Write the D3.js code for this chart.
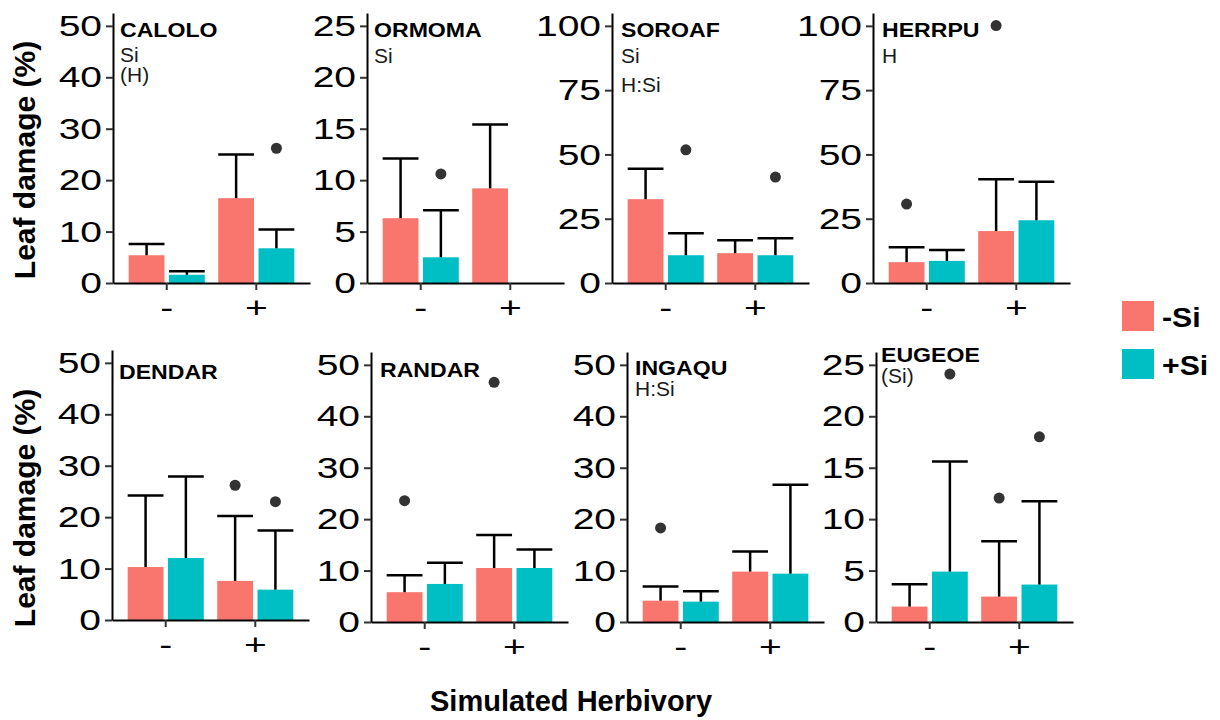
<!DOCTYPE html>
<html>
<head>
<meta charset="utf-8">
<script src="https://cdn.jsdelivr.net/npm/d3@7"></script>
<style>
  body { margin: 0; background: #fff; }
  svg text { font-family: "Liberation Sans", Arial, sans-serif; }
</style>
</head>
<body>
<div id="plot"></div>
<script>
// species panels, in reading order
const species = ["CALOLO", "ORMOMA", "SOROAF", "HERRPU", "DENDAR", "RANDAR", "INGAQU", "EUGEOE"];
const herbLevels = ["-", "+"];
const siLevels = ["-Si", "+Si"];

// mean leaf damage (%) per species, [herbivory -, herbivory +]
const meanNoSi = [[5.4, 16.5], [6.3, 9.2], [32.6, 11.6], [8.1, 20.2], [10.3, 7.6], [5.8, 10.5], [4.15, 9.8], [1.5, 2.47]];
const upperNoSi = [[7.6, 25.0], [12.1, 15.4], [44.4, 16.6], [13.9, 40.3], [24.2, 20.2], [9.1, 16.9], [6.9, 13.7], [3.67, 7.86]];
const meanSi = [[1.6, 6.75], [2.5, null], [10.8, 10.8], [8.6, 24.4], [12.05, 5.9], [7.4, 10.5], [3.96, 9.4], [4.9, 3.64]];
const upperSi = [[2.3, 10.4], [7.07, null], [19.3, 17.4], [12.8, 39.4], [27.9, 17.4], [11.5, 14.1], [5.96, 26.7], [15.6, 11.75]];

// outliers: species, herbivory, silicon, value
const outSpecies = ["CALOLO", "ORMOMA", "SOROAF", "SOROAF", "HERRPU", "HERRPU", "DENDAR", "DENDAR", "RANDAR", "RANDAR", "INGAQU", "EUGEOE", "EUGEOE", "EUGEOE"];
const outHerb = ["+", "-", "-", "+", "-", "+", "+", "+", "-", "+", "-", "-", "+", "+"];
const outSi = ["+Si", "+Si", "+Si", "+Si", "-Si", "-Si", "-Si", "+Si", "-Si", "-Si", "-Si", "+Si", "-Si", "+Si"];
const outValue = [26.2, 10.6, 51.8, 41.2, 30.7, 100.1, 26.2, 23.0, 23.6, 46.6, 18.3, 24.1, 12.05, 18.0];

// y tick labels
const ticks25 = [0, 5, 10, 15, 20, 25];
const ticks50 = [0, 10, 20, 30, 40, 50];
const ticks100 = [0, 25, 50, 75, 100];
const panelTicks = [ticks50, ticks25, ticks100, ticks100, ticks50, ticks50, ticks50, ticks25];

// significance notes under each species name
const notes = [["Si", "(H)"], ["Si"], ["Si", "H:Si"], ["H"], [], [], ["H:Si"], ["(Si)"]];

const colors = {"-Si": "#F8766D", "+Si": "#00BFC4"};

// layout
const panelLeft = [113, 367, 612, 873, 112, 371, 627, 876];
const panelBottom = [283, 283, 283, 283, 620, 622, 622, 622];
const panelW = 197, panelH = 270;
const noteLayout = [
  {dx: 7, title: 24, lines: [49, 69]},
  {dx: 7, title: 24, lines: [50]},
  {dx: 9, title: 24, lines: [50, 79]},
  {dx: 9, title: 24, lines: [50]},
  {dx: 7, title: 29, lines: []},
  {dx: 9, title: 25, lines: []},
  {dx: 8, title: 23, lines: [44]},
  {dx: 5, title: 10, lines: [31]}
];

// the original device draws text a little wide
function stretch(sel, sx) {
  sel.each(function () {
    const t = d3.select(this);
    const x = +t.attr("x") || 0;
    t.attr("x", 0).attr("transform", "translate(" + x + ",0) scale(" + sx + ",1)");
  });
}

const svg = d3.select("#plot").append("svg")
    .attr("width", 1220)
    .attr("height", 720);

species.forEach((sp, i) => {
  const ticks = panelTicks[i];
  const yMax = d3.max(ticks);
  const g = svg.append("g")
      .attr("transform", "translate(" + panelLeft[i] + "," + (panelBottom[i] - panelH) + ")");

  const x = d3.scaleBand().domain(herbLevels).range([0, panelW]).paddingInner(0).paddingOuter(0.1);
  const xSub = d3.scaleBand().domain(siLevels).range([0, x.bandwidth()]).paddingInner(1 / 9).paddingOuter(1 / 6);
  const y = d3.scaleLinear().domain([0, yMax * 1.05]).range([panelH, 0]);

  const rows = [];
  herbLevels.forEach((h, j) => {
    rows.push({h: h, si: "-Si", mean: meanNoSi[i][j], upper: upperNoSi[i][j]});
    rows.push({h: h, si: "+Si", mean: meanSi[i][j], upper: upperSi[i][j]});
  });
  const bars = rows.filter(d => d.mean != null);

  g.selectAll("rect.bar").data(bars).enter().append("rect")
      .attr("class", "bar")
      .attr("x", d => x(d.h) + xSub(d.si))
      .attr("width", xSub.bandwidth())
      .attr("y", d => y(d.mean))
      .attr("height", d => y(0) - y(d.mean))
      .style("fill", d => colors[d.si]);

  // error bars (upper half only)
  const eb = g.selectAll("g.eb").data(bars).enter().append("g").attr("class", "eb")
      .style("stroke", "#000").style("stroke-width", 2.5);
  eb.append("line")
      .attr("x1", d => x(d.h) + xSub(d.si) + xSub.bandwidth() / 2)
      .attr("x2", d => x(d.h) + xSub(d.si) + xSub.bandwidth() / 2)
      .attr("y1", d => y(d.mean))
      .attr("y2", d => y(d.upper));
  eb.append("line")
      .attr("x1", d => x(d.h) + xSub(d.si))
      .attr("x2", d => x(d.h) + xSub(d.si) + xSub.bandwidth())
      .attr("y1", d => y(d.upper))
      .attr("y2", d => y(d.upper));

  const pts = outValue.map((v, k) => ({sp: outSpecies[k], h: outHerb[k], si: outSi[k], v: v}))
      .filter(d => d.sp === sp);
  g.selectAll("circle").data(pts).enter().append("circle")
      .attr("cx", d => x(d.h) + xSub(d.si) + xSub.bandwidth() / 2)
      .attr("cy", d => y(d.v))
      .attr("r", 5.5)
      .style("fill", "#333333");

  const yAxis = g.append("g")
      .call(d3.axisLeft(y).tickValues(ticks).tickSize(7).tickSizeOuter(0).tickPadding(4));
  const xAxis = g.append("g")
      .attr("transform", "translate(0," + panelH + ")")
      .call(d3.axisBottom(x).tickSize(7).tickSizeOuter(0).tickPadding(7));
  [yAxis, xAxis].forEach(a => {
    a.select(".domain").style("stroke", "#000").style("stroke-width", 2);
    a.selectAll(".tick line").style("stroke", "#333").style("stroke-width", 2);
    a.selectAll(".tick text").style("font-size", "30px").style("fill", "#000");
    stretch(a.selectAll(".tick text"), 1.3);
  });

  const nl = noteLayout[i];
  g.append("text")
      .attr("x", nl.dx)
      .attr("y", nl.title)
      .style("font-size", "21px")
      .style("font-weight", "bold")
      .text(sp)
      .call(stretch, 1.1);
  notes[i].forEach((t, k) => {
    g.append("text")
        .attr("x", nl.dx)
        .attr("y", nl.lines[k])
        .style("font-size", "20px")
        .style("fill", "#1a1a1a")
        .text(t)
        .call(stretch, 1.05);
  });
});

// axis titles
[160, 508].forEach(cy => {
  svg.append("text")
      .attr("transform", "translate(35," + cy + ") rotate(-90)")
      .attr("text-anchor", "middle")
      .style("font-size", "30px")
      .style("font-weight", "bold")
      .text("Leaf damage (%)");
});
svg.append("text")
    .attr("x", 571)
    .attr("y", 711)
    .attr("text-anchor", "middle")
    .style("font-size", "29px")
    .style("font-weight", "bold")
    .text("Simulated Herbivory");

// legend
const legend = svg.append("g").attr("transform", "translate(1122,301)");
siLevels.forEach((s, k) => {
  legend.append("rect")
      .attr("x", 0)
      .attr("y", k * 48)
      .attr("width", 32)
      .attr("height", 30)
      .style("fill", colors[s]);
  legend.append("text")
      .attr("x", 40)
      .attr("y", k * 48 + 26)
      .style("font-size", "27px")
      .style("font-weight", "bold")
      .text(s)
      .call(stretch, 1.12);
});
</script>
</body>
</html>
